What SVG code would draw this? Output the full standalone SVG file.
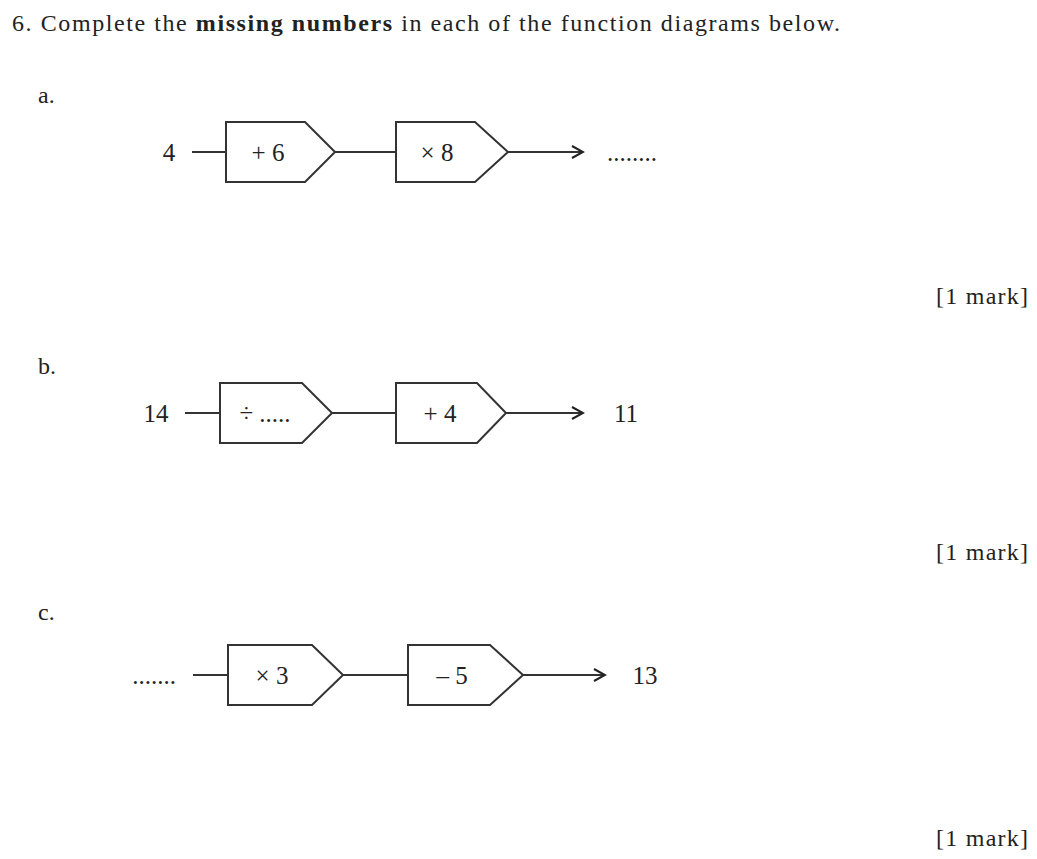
<svg xmlns="http://www.w3.org/2000/svg" width="1037" height="859" viewBox="0 0 1037 859">
<defs><marker id="ah" markerWidth="14" markerHeight="14" refX="12" refY="7" orient="auto" markerUnits="userSpaceOnUse"><path d="M1,1 L12,7 L1,13" fill="none" stroke="#222" stroke-width="2"/></marker></defs>
<style>
.t{font-family:"Liberation Serif",serif;font-size:24px;fill:#222}
.d{font-family:"Liberation Serif",serif;font-size:25px;fill:#222}
.b{fill:#fff;stroke:#333;stroke-width:2}
.c{stroke:#333;stroke-width:2;fill:none}
</style>
<rect width="1037" height="859" fill="#fff"/>
<text x="12" y="31" class="t" textLength="828" lengthAdjust="spacing">6. Complete the <tspan font-weight="bold">missing numbers</tspan> in each of the function diagrams below.</text>
<text x="38" y="103" class="t">a.</text>
<text x="38" y="374" class="t">b.</text>
<text x="38" y="620" class="t">c.</text>
<text x="936" y="304" class="t" textLength="92" lengthAdjust="spacing">[1 mark]</text>
<text x="936" y="560" class="t" textLength="92" lengthAdjust="spacing">[1 mark]</text>
<text x="936" y="846" class="t" textLength="92" lengthAdjust="spacing">[1 mark]</text>
<g id="connectors">
<line class="c" x1="192" y1="152" x2="226" y2="152"/><line class="c" x1="335" y1="152" x2="396" y2="152"/><line class="c" x1="508" y1="152" x2="583" y2="152" marker-end="url(#ah)"/>
<line class="c" x1="185" y1="413" x2="220" y2="413"/><line class="c" x1="332" y1="413" x2="396" y2="413"/><line class="c" x1="506" y1="413" x2="583" y2="413" marker-end="url(#ah)"/>
<line class="c" x1="193" y1="675" x2="228" y2="675"/><line class="c" x1="343" y1="675" x2="408" y2="675"/><line class="c" x1="523" y1="675" x2="605" y2="675" marker-end="url(#ah)"/>
</g>
<g id="a">
<text x="169" y="161" class="d" text-anchor="middle">4</text>
<g id="a1"><path class="b" d="M226,122 H305 L335,152 L305,182 H226 Z"/><text x="268" y="161" class="d" text-anchor="middle">+ 6</text></g>
<g id="a2"><path class="b" d="M396,122 H475 L508,152 L475,182 H396 Z"/><text x="437" y="161" class="d" text-anchor="middle">× 8</text></g>
<text x="632" y="161" class="d" text-anchor="middle">........</text>
</g>
<g id="b">
<text x="156" y="422" class="d" text-anchor="middle">14</text>
<g id="b1"><path class="b" d="M220,383 H302 L332,413 L302,443 H220 Z"/><text x="265" y="422" class="d" text-anchor="middle">÷  .....</text></g>
<g id="b2"><path class="b" d="M396,383 H477 L506,413 L477,443 H396 Z"/><text x="440" y="422" class="d" text-anchor="middle">+ 4</text></g>
<text x="626" y="422" class="d" text-anchor="middle">11</text>
</g>
<g id="c">
<text x="154" y="684" class="d" text-anchor="middle">.......</text>
<g id="c1"><path class="b" d="M228,645 H312 L343,675 L312,705 H228 Z"/><text x="272" y="684" class="d" text-anchor="middle">× 3</text></g>
<g id="c2"><path class="b" d="M408,645 H490 L523,675 L490,705 H408 Z"/><text x="452" y="684" class="d" text-anchor="middle">– 5</text></g>
<text x="645" y="684" class="d" text-anchor="middle">13</text>
</g>
</svg>
